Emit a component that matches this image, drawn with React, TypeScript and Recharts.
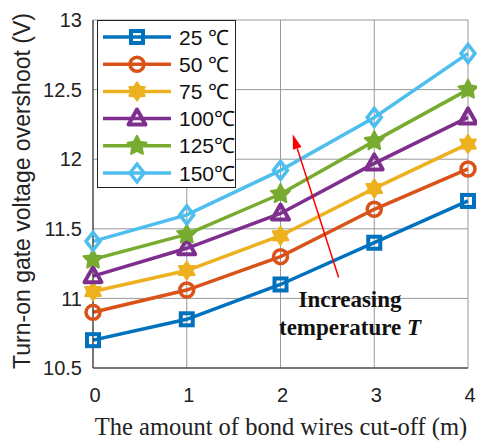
import { LineChart, Line, XAxis, YAxis, CartesianGrid, ReferenceLine } from 'recharts';

const xValues = [0, 1, 2, 3, 4];
const yTicks = [10.5, 11, 11.5, 12, 12.5, 13];

const t25 = [10.7, 10.85, 11.1, 11.4, 11.7];
const t50 = [10.9, 11.06, 11.3, 11.64, 11.93];
const t75 = [11.05, 11.2, 11.45, 11.79, 12.11];
const t100 = [11.16, 11.36, 11.61, 11.97, 12.3];
const t125 = [11.28, 11.46, 11.75, 12.13, 12.5];
const t150 = [11.41, 11.6, 11.92, 12.3, 12.76];

const seriesNames = ['25 ℃', '50 ℃', '75 ℃', '100℃', '125℃', '150℃'];

const data = xValues.map((x, i) => ({
  x,
  t25: t25[i],
  t50: t50[i],
  t75: t75[i],
  t100: t100[i],
  t125: t125[i],
  t150: t150[i],
}));

type MarkerKind = 'square' | 'circle' | 'hexagram' | 'triangle' | 'pentagram' | 'diamond';

const series: { key: string; name: string; color: string; marker: MarkerKind }[] = [
  { key: 't25', name: seriesNames[0], color: '#0072BD', marker: 'square' },
  { key: 't50', name: seriesNames[1], color: '#D95319', marker: 'circle' },
  { key: 't75', name: seriesNames[2], color: '#EDB120', marker: 'hexagram' },
  { key: 't100', name: seriesNames[3], color: '#7E2F8E', marker: 'triangle' },
  { key: 't125', name: seriesNames[4], color: '#77AC30', marker: 'pentagram' },
  { key: 't150', name: seriesNames[5], color: '#4DBEEE', marker: 'diamond' },
];

const starPoints = (cx: number, cy: number, n: number, ro: number, ri: number) => {
  const pts: string[] = [];
  for (let i = 0; i < n * 2; i++) {
    const r = i % 2 === 0 ? ro : ri;
    const a = -Math.PI / 2 + (i * Math.PI) / n;
    pts.push(`${cx + r * Math.cos(a)},${cy + r * Math.sin(a)}`);
  }
  return pts.join(' ');
};

const Marker = ({ kind, cx, cy, color }: { kind: MarkerKind; cx: number; cy: number; color: string }) => {
  const sw = 4;
  switch (kind) {
    case 'square':
      return <rect x={cx - 6} y={cy - 6} width={12} height={12} fill='none' stroke={color} strokeWidth={sw} />;
    case 'circle':
      return <circle cx={cx} cy={cy} r={7} fill='none' stroke={color} strokeWidth={3.5} />;
    case 'hexagram':
      return <polygon points={starPoints(cx, cy, 6, 9, 5.5)} fill={color} stroke={color} strokeWidth={2} strokeLinejoin='round' />;
    case 'triangle':
      return (
        <polygon
          points={`${cx},${cy - 9} ${cx + 8.5},${cy + 6} ${cx - 8.5},${cy + 6}`}
          fill='none'
          stroke={color}
          strokeWidth={sw}
          strokeLinejoin='round'
        />
      );
    case 'pentagram':
      return <polygon points={starPoints(cx, cy, 5, 10, 5)} fill={color} stroke={color} strokeWidth={2} strokeLinejoin='round' />;
    case 'diamond':
      return (
        <polygon
          points={`${cx},${cy - 9} ${cx + 7},${cy} ${cx},${cy + 9} ${cx - 7},${cy}`}
          fill='none'
          stroke={color}
          strokeWidth={3.5}
        />
      );
  }
};

const LegendBox = () => (
  <svg width={140} height={169} style={{ display: 'block' }}>
    <rect x={0.5} y={0.5} width={138} height={167} fill='#fff' stroke='#222' strokeWidth={1} />
    {series.map((s, i) => {
      const y = 17 + i * 27.2;
      return (
        <g key={s.key}>
          <line x1={6} y1={y} x2={74} y2={y} stroke={s.color} strokeWidth={3.5} />
          <Marker kind={s.marker} cx={40} cy={y} color={s.color} />
          <text x={82} y={y + 7.5} fontSize={21} fill='#111' fontFamily='Liberation Sans, Arial, sans-serif'>
            {s.name}
          </text>
        </g>
      );
    })}
  </svg>
);

const ArrowShape = (props: any) => {
  const { x1, y1, x2, y2 } = props;
  if (x1 == null) return null;
  const ang = Math.atan2(y2 - y1, x2 - x1);
  const L = 15;
  const W = 4.5;
  const bx = x2 - L * Math.cos(ang);
  const by = y2 - L * Math.sin(ang);
  const px = -Math.sin(ang) * W;
  const py = Math.cos(ang) * W;
  return (
    <g>
      <line x1={x1} y1={y1} x2={bx} y2={by} stroke='#FF0000' strokeWidth={1.5} />
      <polygon points={`${x2},${y2} ${bx + px},${by + py} ${bx - px},${by - py}`} fill='#FF0000' />
    </g>
  );
};

const tickFont = { fontSize: 20, fill: '#222', fontFamily: 'Liberation Sans, Arial, sans-serif' };

const App = () => {
  return (
    <div style={{ position: 'absolute', left: 0, top: 0, width: 477, height: 445, background: '#fff' }}>
      <LineChart width={477} height={445} data={data} margin={{ top: 20, right: 9, bottom: 47, left: 0 }}>
        <CartesianGrid stroke='#999' strokeWidth={1} />
        <XAxis
          dataKey='x'
          type='number'
          domain={[0, 4]}
          ticks={xValues}
          tick={{ ...tickFont, dx: 2 }}
          tickLine={false}
          axisLine={{ stroke: '#222' }}
          tickMargin={14}
          height={30}
        />
        <XAxis xAxisId='top' orientation='top' dataKey='x' type='number' domain={[0, 4]} tick={false} tickLine={false} axisLine={{ stroke: '#222' }} height={0} />
        <YAxis
          type='number'
          domain={[10.5, 13]}
          ticks={yTicks}
          tick={tickFont}
          tickLine={false}
          axisLine={{ stroke: '#222' }}
          width={93}
          tickMargin={5}
          interval={0}
        />
        <YAxis yAxisId='right' orientation='right' domain={[10.5, 13]} tick={false} tickLine={false} axisLine={{ stroke: '#222' }} width={0} />
        {series.map((s) => (
          <Line
            key={s.key}
            dataKey={s.key}
            name={s.name}
            stroke={s.color}
            strokeWidth={3.5}
            isAnimationActive={false}
            dot={(p: any) => <Marker key={`${s.key}-${p.index}`} kind={s.marker} cx={p.cx} cy={p.cy} color={s.color} />}
            activeDot={false}
          />
        ))}
        <ReferenceLine
          segment={[
            { x: 2.62, y: 11.15 },
            { x: 2.13, y: 12.18 },
          ]}
          shape={ArrowShape}
          ifOverflow='visible'
        />
      </LineChart>
      <div style={{ position: 'absolute', left: 97, top: 20 }}>
        <LegendBox />
      </div>
      <div
        style={{
          position: 'absolute',
          left: 22,
          top: 191,
          transform: 'translate(-50%, -50%) rotate(-90deg)',
          whiteSpace: 'nowrap',
          fontSize: 23,
          color: '#222',
          fontFamily: 'Liberation Sans, Arial, sans-serif',
        }}
      >
        Turn-on gate voltage overshoot (V)
      </div>
      <div
        style={{
          position: 'absolute',
          left: 281,
          top: 427,
          transform: 'translate(-50%, -50%)',
          whiteSpace: 'nowrap',
          fontSize: 24.5,
          color: '#222',
          fontFamily: 'Liberation Serif, Times New Roman, serif',
        }}
      >
        The amount of bond wires cut-off (m)
      </div>
      <div
        style={{
          position: 'absolute',
          left: 350,
          top: 314,
          transform: 'translate(-50%, -50%)',
          textAlign: 'center',
          fontSize: 23,
          lineHeight: '28px',
          fontWeight: 'bold',
          color: '#111',
          fontFamily: 'Liberation Serif, Times New Roman, serif',
          whiteSpace: 'nowrap',
        }}
      >
        Increasing
        <br />
        temperature <i>T</i>
      </div>
    </div>
  );
};

export default App;
